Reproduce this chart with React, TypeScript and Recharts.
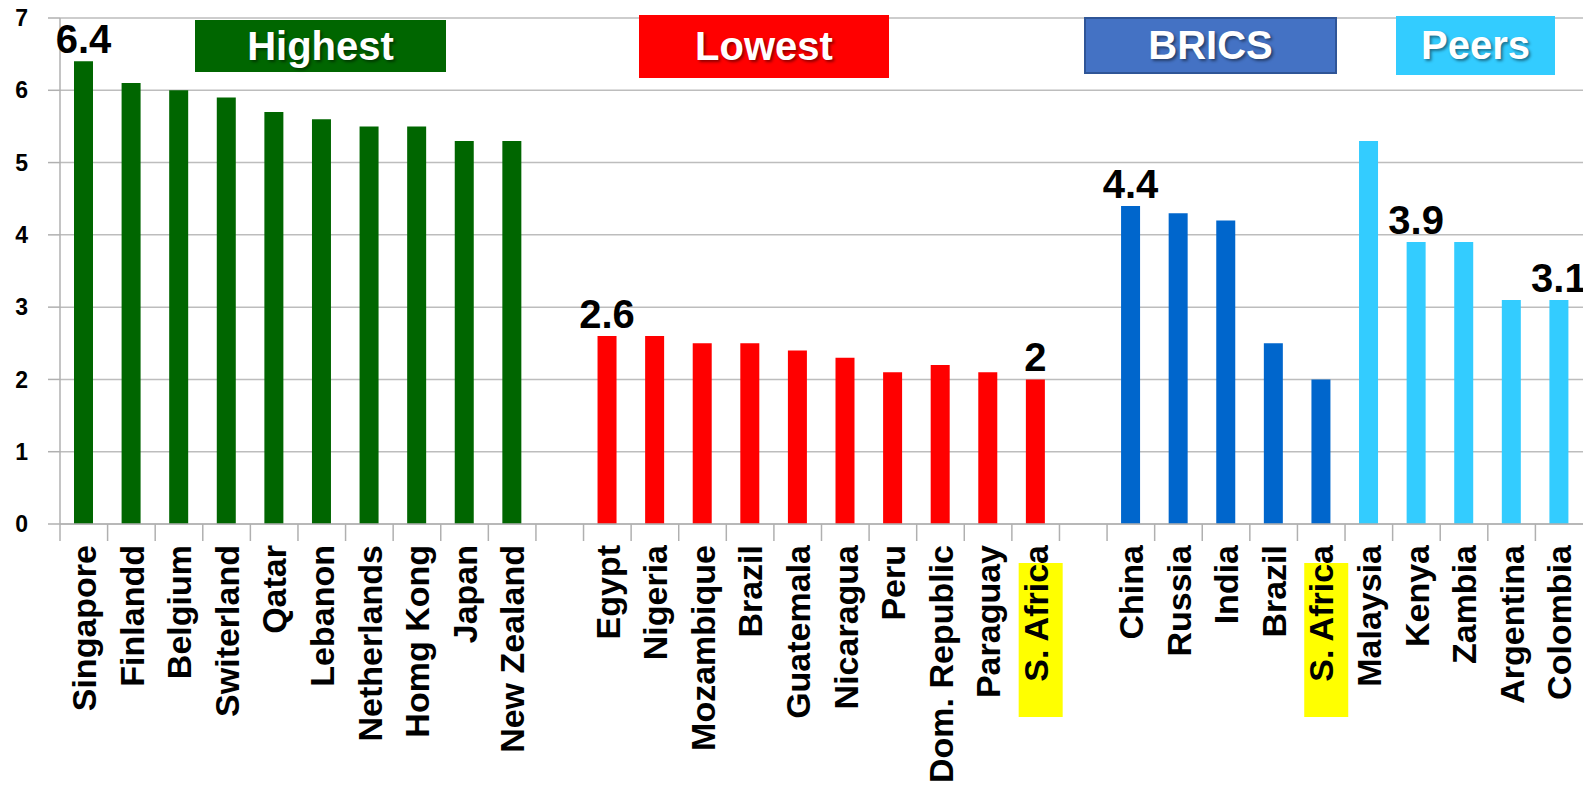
import React from 'react';
import { BarChart, Bar, XAxis, YAxis, CartesianGrid, Cell, LabelList } from 'recharts';

const highestNames = ['Singapore', 'Finlandd', 'Belgium', 'Switerland', 'Qatar', 'Lebanon', 'Netherlands', 'Homg Kong', 'Japan', 'New Zealand'];
const highestValues = [6.4, 6.1, 6.0, 5.9, 5.7, 5.6, 5.5, 5.5, 5.3, 5.3];
const highestLabelled = [0];

const lowestNames = ['Egypt', 'Nigeria', 'Mozambique', 'Brazil', 'Guatemala', 'Nicaragua', 'Peru', 'Dom. Republic', 'Paraguay', 'S. Africa'];
const lowestValues = [2.6, 2.6, 2.5, 2.5, 2.4, 2.3, 2.1, 2.2, 2.1, 2.0];
const lowestLabelled = [0, 9];

const bricsNames = ['China', 'Russia', 'India', 'Brazil', 'S. Africa'];
const bricsValues = [4.4, 4.3, 4.2, 2.5, 2.0];
const bricsLabelled = [0];

const peersNames = ['Malaysia', 'Kenya', 'Zambia', 'Argentina', 'Colombia'];
const peersValues = [5.3, 3.9, 3.9, 3.1, 3.1];
const peersLabelled = [1, 4];

const highlighted = ['S. Africa'];
const yTicks = [0, 1, 2, 3, 4, 5, 6, 7];

const FONT = '"Liberation Sans", Arial, sans-serif';
const W = 1583;
const H = 796;
const Y_W = 60;

type Row = { key: string; name: string; value: number | null; color: string; label?: number };

const data: Row[] = [];
const addGroup = (names: string[], values: number[], color: string, labelled: number[]) => {
  names.forEach((name, i) => {
    data.push({
      key: `c${data.length}`,
      name,
      value: values[i],
      color,
      label: labelled.includes(i) ? values[i] : undefined,
    });
  });
};
const addGap = () => data.push({ key: `c${data.length}`, name: '', value: null, color: 'none' });

addGroup(highestNames, highestValues, '#006600', highestLabelled);
addGap();
addGroup(lowestNames, lowestValues, '#ff0000', lowestLabelled);
addGap();
addGroup(bricsNames, bricsValues, '#0066cc', bricsLabelled);
addGroup(peersNames, peersValues, '#33ccff', peersLabelled);

const STEP = (W - Y_W) / data.length;

// x tick: boundary tick mark, optional yellow highlight, rotated label
const XTick = (props: any) => {
  const { x, y, index } = props;
  const row = data[index];
  const hl = highlighted.includes(row.name);
  return (
    <g>
      <line x1={x - STEP / 2} x2={x - STEP / 2} y1={y} y2={y + 17} stroke="#b0b0b0" strokeWidth={1.5} />
      {hl && <rect x={x - 17} y={y + 39} width={44} height={154} fill="#ffff00" />}
      <text
        x={x}
        y={y + 21}
        transform={`rotate(-90, ${x}, ${y + 21})`}
        textAnchor="end"
        dy="0.36em"
        fontSize={34}
        fontWeight="bold"
        fontFamily={FONT}
        fill="#000"
      >
        {row.name}
      </text>
    </g>
  );
};

const boxes = [
  { text: 'Highest', left: 195, top: 20, width: 251, height: 52, bg: '#006600', border: 'none' },
  { text: 'Lowest', left: 639, top: 15, width: 250, height: 63, bg: '#ff0000', border: 'none' },
  { text: 'BRICS', left: 1084, top: 17, width: 253, height: 57, bg: '#4472c4', border: '2px solid #2f5597' },
  { text: 'Peers', left: 1396, top: 16, width: 159, height: 59, bg: '#33ccff', border: 'none' },
];

export default function App() {
  return (
    <div style={{ position: 'absolute', left: 0, top: 0, width: W, height: H, overflow: 'hidden', background: '#fff' }}>
      <BarChart width={W} height={H} data={data} margin={{ top: 18, right: 0, bottom: 0, left: 0 }} barSize={19}>
        <CartesianGrid vertical={false} stroke="#bdbdbd" strokeWidth={1.5} />
        <YAxis
          domain={[0, 7]}
          ticks={yTicks}
          width={Y_W}
          tickSize={12}
          tickMargin={20}
          stroke="#b0b0b0"
          strokeWidth={1.5}
          tick={{ fontSize: 23, fontWeight: 'bold', fill: '#000', fontFamily: FONT }}
        />
        <XAxis
          dataKey="key"
          interval={0}
          height={H - 18 - 506}
          tickSize={0}
          tickMargin={0}
          tickLine={false}
          stroke="#b0b0b0"
          strokeWidth={1.5}
          tick={<XTick />}
        />
        <Bar dataKey="value" isAnimationActive={false}>
          {data.map((d) => (
            <Cell key={d.key} fill={d.color} />
          ))}
          <LabelList
            dataKey="label"
            position="top"
            offset={8}
            fontSize={40}
            fontWeight="bold"
            fill="#000"
            fontFamily={FONT}
          />
        </Bar>
      </BarChart>
      {boxes.map((b) => (
        <div
          key={b.text}
          style={{
            position: 'absolute',
            left: b.left,
            top: b.top,
            width: b.width,
            height: b.height,
            boxSizing: 'border-box',
            background: b.bg,
            border: b.border,
            display: 'flex',
            alignItems: 'center',
            justifyContent: 'center',
            color: '#fff',
            fontFamily: FONT,
            fontWeight: 'bold',
            fontSize: 40,
            textShadow: '2px 2px 3px rgba(0,0,0,0.45)',
          }}
        >
          {b.text}
        </div>
      ))}
    </div>
  );
}
